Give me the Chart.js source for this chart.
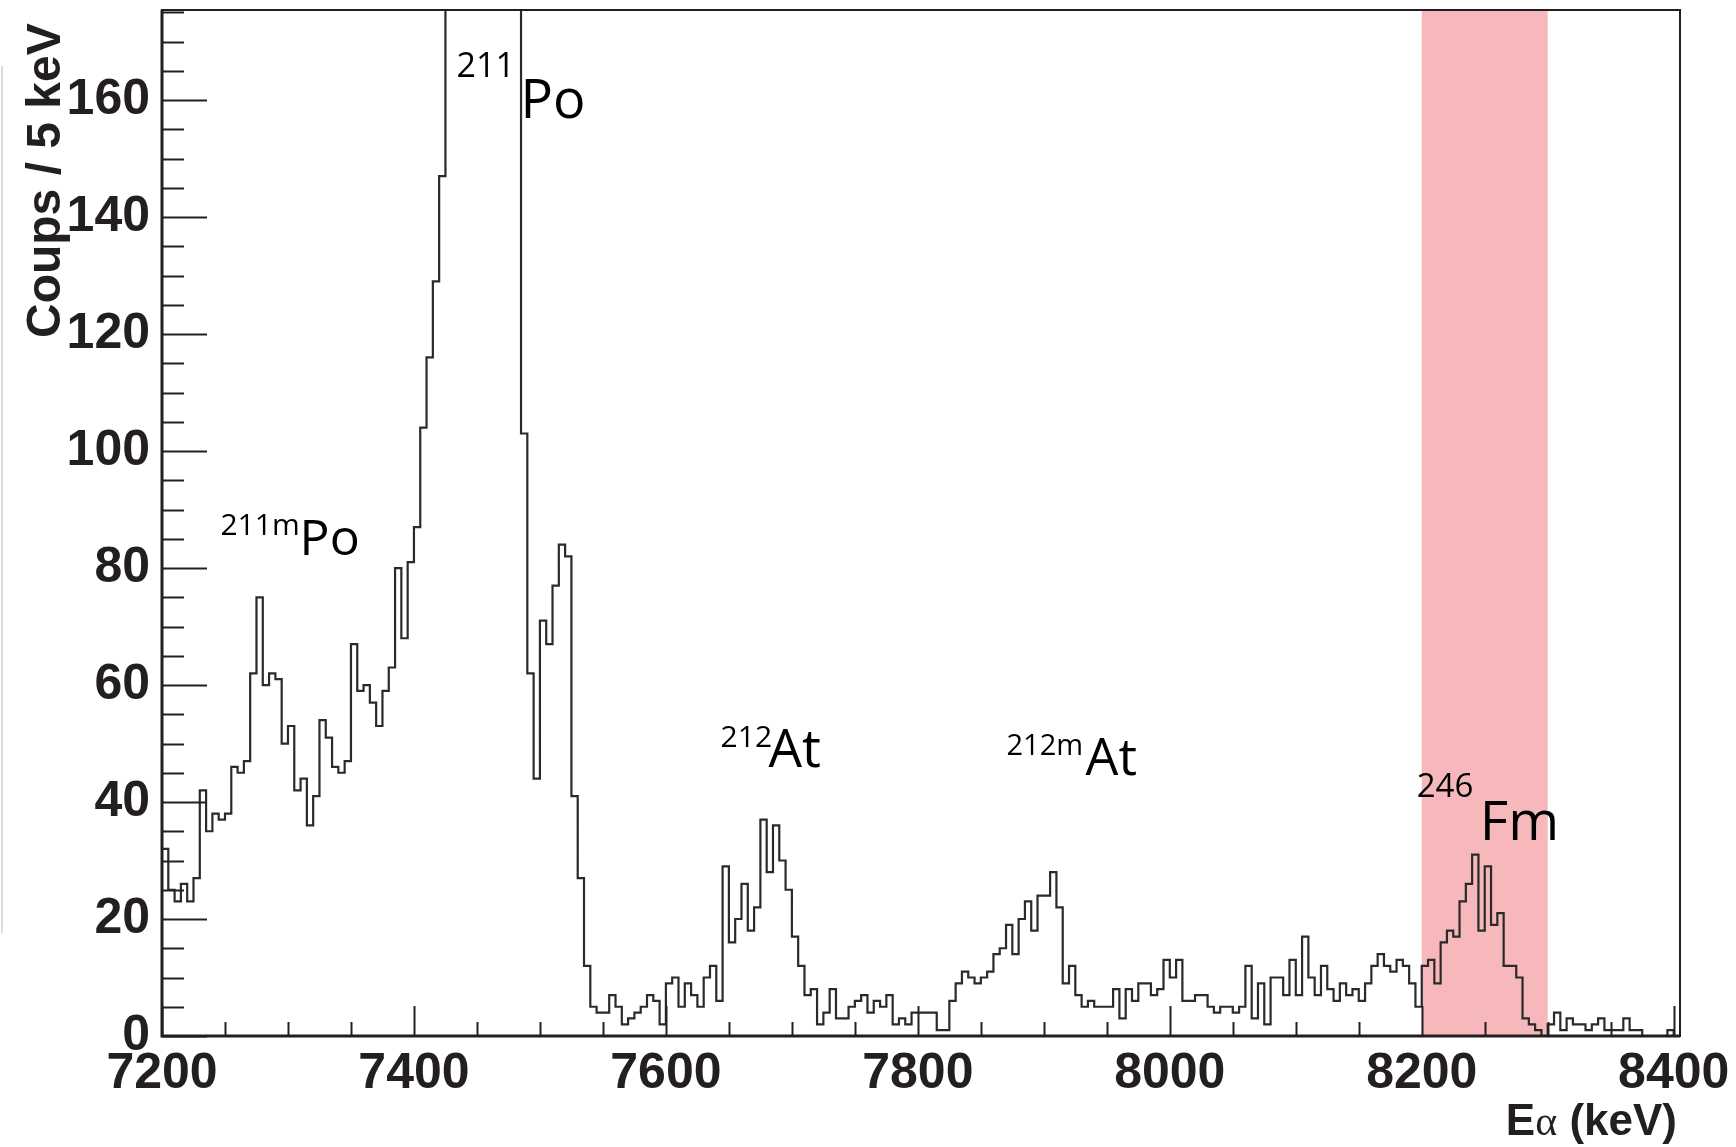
<!DOCTYPE html>
<html lang="fr">
<head>
<meta charset="UTF-8">
<title>Spectre alpha 7200-8400 keV</title>
<script src="https://cdn.jsdelivr.net/npm/chart.js"></script>
<style>
  html, body { margin: 0; padding: 0; background: #fff; }
  #wrap { width: 1736px; height: 1147px; }
</style>
</head>
<body>
<div id="wrap"><canvas id="spectrum" width="1736" height="1147"></canvas></div>
<script>
  // 5 keV bins starting at 7200 keV (240 bins up to 8400 keV)
  const binStart = 7200;
  const binWidth = 5;
  // bins 45-56 (211Po peak) run off the top of the frame
  const counts = [
    32, 25, 23, 26, 23, 27, 42, 35, 38, 37,
    38, 46, 45, 47, 62, 75, 60, 62, 61, 50,
    53, 42, 44, 36, 41, 54, 51, 46, 45, 47,
    67, 59, 60, 57, 53, 59, 63, 80, 68, 81,
    87, 104, 116, 129, 147, 200, 280, 380, 480, 560,
    600, 580, 500, 400, 300, 230, 190, 103, 62, 44,
    71, 67, 77, 84, 82, 41, 27, 12, 5, 4,
    4, 7, 5, 2, 3, 4, 5, 7, 6, 2,
    9, 10, 5, 9, 7, 5, 10, 12, 6, 29,
    16, 20, 26, 18, 22, 37, 28, 36, 30, 25,
    17, 12, 7, 8, 2, 4, 8, 3, 3, 5,
    6, 7, 4, 6, 5, 7, 2, 3, 2, 4,
    4, 4, 4, 1, 1, 6, 9, 11, 10, 9,
    10, 11, 14, 15, 19, 14, 20, 23, 18, 24,
    24, 28, 22, 9, 12, 7, 5, 6, 5, 5,
    5, 8, 3, 8, 6, 9, 9, 7, 8, 13,
    10, 13, 6, 6, 7, 7, 5, 4, 5, 5,
    4, 5, 12, 3, 9, 2, 10, 10, 7, 13,
    7, 17, 10, 7, 12, 8, 6, 9, 7, 8,
    6, 9, 12, 14, 12, 11, 13, 12, 9, 5,
    12, 13, 9, 16, 18, 17, 23, 26, 31, 18,
    29, 19, 21, 12, 12, 10, 3, 2, 1, 0,
    2, 4, 1, 3, 2, 2, 1, 2, 3, 1,
    1, 1, 3, 1, 1, 0, 0, 0, 0, 1
  ];

  const xTicks = [7200, 7400, 7600, 7800, 8000, 8200, 8400];
  const yTicks = [0, 20, 40, 60, 80, 100, 120, 140, 160];

  // 246Fm selection window (keV)
  const gateRange = [8200, 8300];

  // peak labels: mass number (superscript) + element
  const peakMasses = ['211m', '211', '212', '212m', '246'];
  const peakNames = ['Po', 'Po', 'At', 'At', 'Fm'];

  const yTitle = 'Coups / 5 keV';
  const xTitle = ['E', '\u03b1', ' (keV)'];

  // where each label sits, in axis units, and its font sizes
  const labelLayout = [
    { sup: [7246.4, 85.6, 30], main: [7309.2, 82.2, 50] },
    { sup: [7433.8, 163.9, 34], main: [7484.6, 156.9, 54] },
    { sup: [7643.4, 49.4, 30], main: [7681.5, 46.0, 53] },
    { sup: [7870.4, 48.0, 29], main: [7933.1, 44.6, 52] },
    { sup: [8196.0, 40.9, 33], main: [8246.1, 33.5, 55] }
  ];

  const ink = '#231f20';
  const tickFont = { family: '"Liberation Sans", Arial, sans-serif', size: 50, weight: 'bold' };

  const points = counts.map((c, i) => ({ x: binStart + i * binWidth, y: c }));
  points.push({ x: binStart + counts.length * binWidth, y: 0 });

  // keep the plot frame where the layout padding puts it
  function noEdgePadding(s) {
    s.paddingTop = 0;
    s.paddingBottom = 0;
    s.paddingLeft = 0;
    s.paddingRight = 0;
  }

  // pink window behind the histogram
  const gatePlugin = {
    id: 'gate',
    beforeDatasetsDraw(chart) {
      const { ctx, chartArea, scales } = chart;
      const x0 = scales.x.getPixelForValue(gateRange[0]);
      const x1 = scales.x.getPixelForValue(gateRange[1]);
      ctx.save();
      ctx.fillStyle = 'rgb(246,184,186)';
      ctx.fillRect(x0, chartArea.top, x1 - x0, chartArea.bottom - chartArea.top);
      ctx.restore();
    }
  };

  // ROOT-like frame with ticks pointing inwards
  const framePlugin = {
    id: 'frame',
    afterDatasetsDraw(chart) {
      const { ctx, chartArea: a, scales } = chart;
      ctx.save();
      ctx.strokeStyle = ink;
      ctx.lineWidth = 2;
      ctx.strokeRect(a.left, a.top, a.right - a.left, a.bottom - a.top);
      ctx.lineWidth = 3;
      ctx.beginPath();
      ctx.moveTo(a.left, a.top);
      ctx.lineTo(a.left, a.bottom);
      ctx.lineTo(a.right, a.bottom);
      ctx.stroke();

      ctx.lineWidth = 2;
      ctx.beginPath();
      for (let v = 0; v <= scales.y.max; v += 5) {
        const y = Math.round(scales.y.getPixelForValue(v)) + 0.5;
        const len = v % 20 === 0 ? 45 : 22;
        ctx.moveTo(a.left, y);
        ctx.lineTo(a.left + len, y);
      }
      for (let v = 7200; v <= 8400; v += 50) {
        const x = Math.round(scales.x.getPixelForValue(v)) + 0.5;
        const len = v % 200 === 0 ? 30 : 14;
        ctx.moveTo(x, a.bottom);
        ctx.lineTo(x, a.bottom - len);
      }
      ctx.stroke();
      ctx.restore();
    },
    afterDraw(chart) {
      const { ctx, scales } = chart;
      ctx.save();
      ctx.fillStyle = '#000';

      // peak labels
      labelLayout.forEach((l, i) => {
        ctx.textAlign = 'left';
        ctx.textBaseline = 'alphabetic';
        ctx.font = l.sup[2] + 'px "Open Sans", sans-serif';
        ctx.fillText(peakMasses[i], scales.x.getPixelForValue(l.sup[0]), scales.y.getPixelForValue(l.sup[1]));
        ctx.font = l.main[2] + 'px "Open Sans", sans-serif';
        ctx.fillText(peakNames[i], scales.x.getPixelForValue(l.main[0]), scales.y.getPixelForValue(l.main[1]));
      });

      // y title, rotated, ending near the top of the axis
      ctx.fillStyle = ink;
      ctx.font = 'bold 48px "Liberation Sans", Arial, sans-serif';
      ctx.translate(60, 338);
      ctx.rotate(-Math.PI / 2);
      ctx.textAlign = 'left';
      ctx.fillText(yTitle, 0, 0);
      ctx.setTransform(1, 0, 0, 1, 0, 0);

      // x title, right aligned under the axis end
      const fonts = [
        'bold 44px "Liberation Sans", Arial, sans-serif',
        '42px "Liberation Serif", serif',
        'bold 44px "Liberation Sans", Arial, sans-serif'
      ];
      const widths = xTitle.map((t, i) => { ctx.font = fonts[i]; return ctx.measureText(t).width; });
      let x = 1677 - widths.reduce((s, w) => s + w, 0);
      xTitle.forEach((t, i) => {
        ctx.font = fonts[i];
        ctx.fillText(t, x, 1135);
        x += widths[i];
      });

      // thin grey rule at the page edge
      ctx.strokeStyle = '#dcdcdc';
      ctx.lineWidth = 2;
      ctx.beginPath();
      ctx.moveTo(2, 66);
      ctx.lineTo(2, 933);
      ctx.stroke();
      ctx.restore();
    }
  };

  new Chart(document.getElementById('spectrum'), {
    type: 'line',
    data: {
      datasets: [{
        data: points,
        stepped: 'before',
        borderColor: '#2a2a2a',
        borderWidth: 2.2,
        pointRadius: 0,
        fill: false
      }]
    },
    options: {
      responsive: false,
      animation: false,
      layout: { padding: { top: 10, right: 56, left: 0, bottom: 0 } },
      plugins: { legend: { display: false }, tooltip: { enabled: false } },
      scales: {
        x: {
          type: 'linear',
          min: 7200,
          max: 8405,
          afterFit: s => { s.height = 111; noEdgePadding(s); },
          afterBuildTicks: s => { s.ticks = xTicks.map(v => ({ value: v })); },
          grid: { display: false, drawTicks: false },
          border: { display: false },
          ticks: { font: tickFont, color: ink, padding: 8, maxRotation: 0, autoSkip: false, callback: v => String(v) }
        },
        y: {
          type: 'linear',
          min: 0,
          max: 175.4,
          afterFit: s => { s.width = 162; noEdgePadding(s); },
          afterBuildTicks: s => { s.ticks = yTicks.map(v => ({ value: v })); },
          grid: { display: false, drawTicks: false },
          border: { display: false },
          ticks: { font: tickFont, color: ink, padding: 12, autoSkip: false, callback: v => String(v) }
        }
      }
    },
    plugins: [gatePlugin, framePlugin]
  });
</script>
</body>
</html>
